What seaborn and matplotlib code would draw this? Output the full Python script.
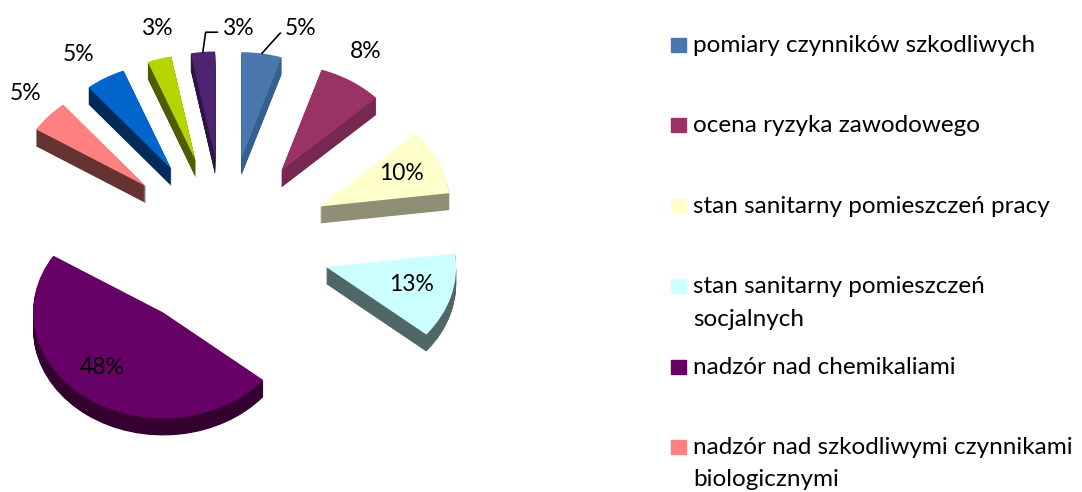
import numpy as np
import matplotlib
matplotlib.use("Agg")
import matplotlib.pyplot as plt
import seaborn as sns
from matplotlib.patches import Rectangle

# ---------------- data ----------------
categories = [
    "pomiary czynników szkodliwych",
    "ocena ryzyka zawodowego",
    "stan sanitarny pomieszczeń pracy",
    "stan sanitarny pomieszczeń\nsocjalnych",
    "nadzór nad chemikaliami",
    "nadzór nad szkodliwymi czynnikami\nbiologicznymi",
]
values = [5, 8, 10, 13, 48, 5, 5, 3, 3]
pct_labels = ["5%", "8%", "10%", "13%", "48%", "5%", "5%", "3%", "3%"]

# ---------------- styles ----------------
top_colors = ["#4A78AE", "#993366", "#FFFFCC", "#CCFFFF", "#660066",
              "#FF8080", "#0066CC", "#B5D400", "#4E2472"]
wall_colors = ["#375E8C", "#772850", "#8F8F76", "#4F6767", "#33002F",
               "#663333", "#002B5A", "#4F5C00", "#2E1545"]

# label positions in data units (layout only)
label_pos = [(0.585, 2.019), (1.085, 1.802), (1.354, 0.651), (1.438, -0.387),
             (-0.946, -1.179), (-1.531, 1.415), (-1.123, 1.783),
             (-0.523, 2.028), (0.100, 2.028)]
leader = {0: 48, 8: 82}

sns.set_theme(style="white")
plt.rcParams['font.family'] = ['Lato', 'DejaVu Sans']

W, H = 1082, 492
fig = plt.figure(figsize=(W / 100, H / 100), dpi=100)
ax = fig.add_axes([0, 0, 540 / W, 1])

explode_r = 0.81
explode = [explode_r] * len(values)
depth = 0.16
n_layers = 24
for i in range(n_layers, 0, -1):
    ax.pie(values, explode=explode, colors=wall_colors, startangle=90,
           counterclock=False, center=(0, -depth * i / n_layers), radius=1,
           wedgeprops=dict(linewidth=0))
ax.pie(values, explode=explode, colors=top_colors, startangle=90,
       counterclock=False, center=(0, 0), radius=1,
       wedgeprops=dict(linewidth=0))

ax.set_aspect('auto')
ax.set_xlim(-225 / 130, (540 - 225) / 130)
ax.set_ylim((243 - 492) / 106, 243 / 106)
ax.axis('off')

fs = 16.5
total = float(sum(values))
cum = np.cumsum([0] + values)
for i, lab in enumerate(pct_labels):
    if i in leader:
        theta = np.deg2rad(360 * (cum[i] + values[i] / 2) / total)
        xa = (1 + explode_r) * np.sin(theta)
        ya = (1 + explode_r) * np.cos(theta)
        ax.annotate(lab, xy=(xa, ya), xytext=label_pos[i], ha='center', va='center',
                    fontsize=fs, color='black',
                    arrowprops=dict(arrowstyle='-', color='black', lw=1.2,
                                    shrinkA=1, shrinkB=0, relpos=(0, 0.3),
                                    connectionstyle=f'angle,angleA=180,angleB={leader[i]},rad=0'))
    else:
        ax.text(*label_pos[i], lab, ha='center', va='center', fontsize=fs, color='black')

# legend (only the visible entries)
lfs = 17.5
for i, lab in enumerate(categories):
    base = 52 + i * 80.4
    fig.patches.append(Rectangle((671 / W, (H - base) / H), 15 / W, 14 / H,
                                 transform=fig.transFigure, color=top_colors[i]))
    for j, line in enumerate(lab.split("\n")):
        fig.text(693 / W, (H - base - j * 32.5) / H, line, ha='left', va='baseline',
                 fontsize=lfs, color='black')

fig.savefig("out.png", dpi=100)
